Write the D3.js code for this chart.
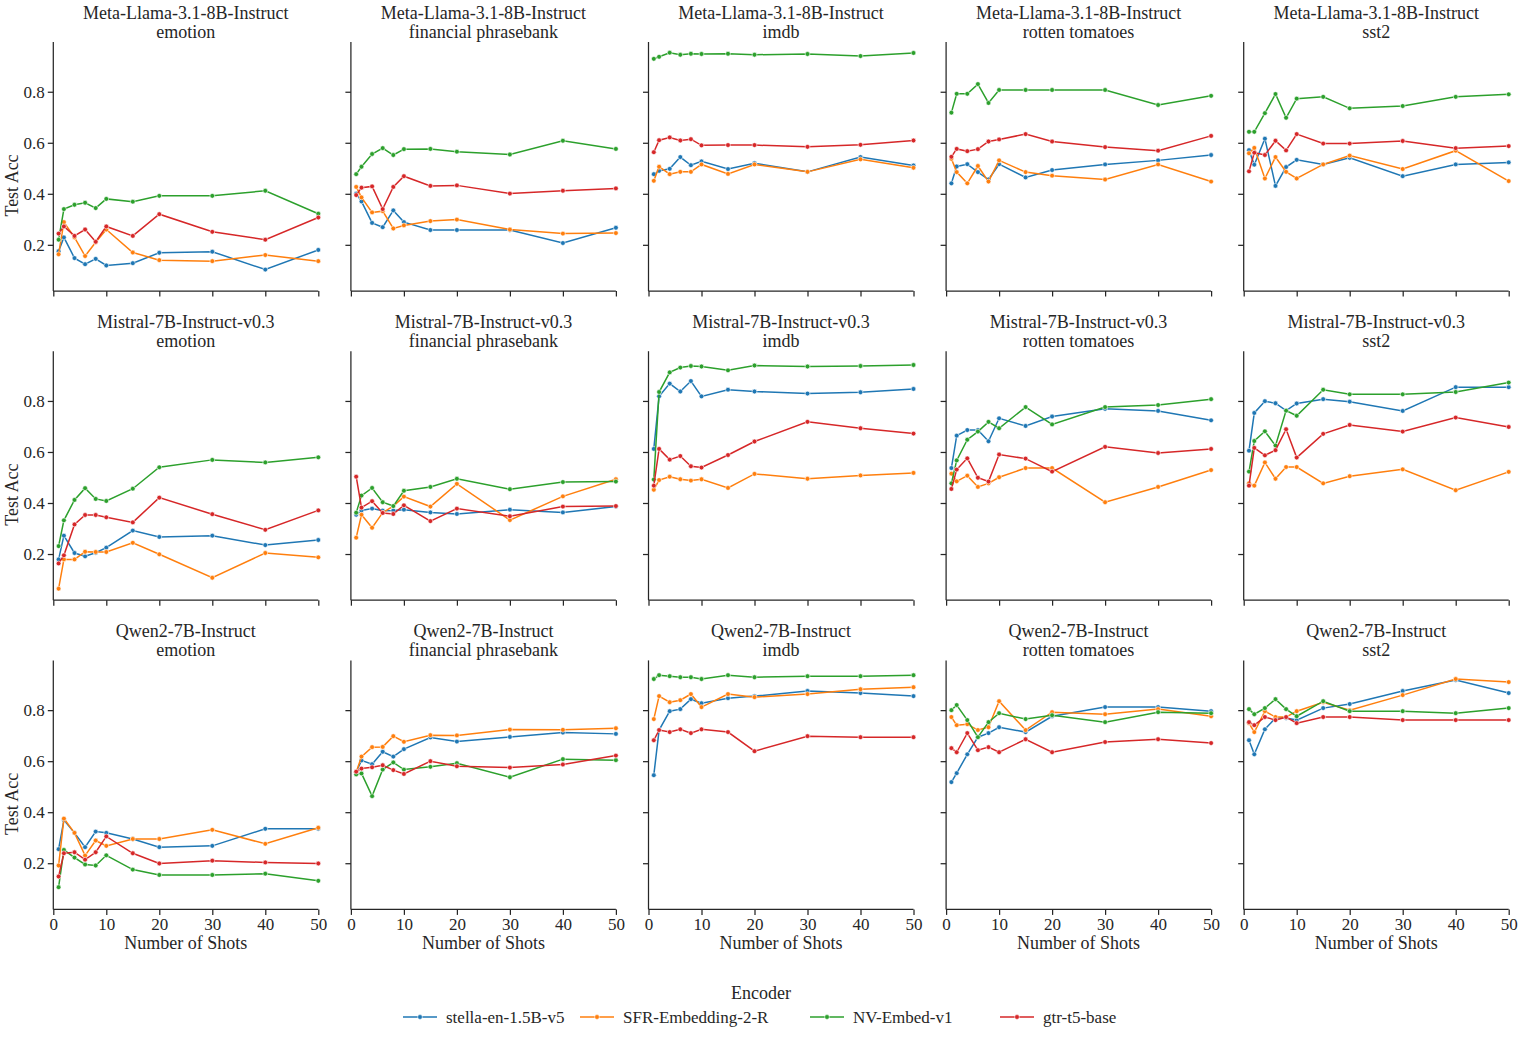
<!DOCTYPE html>
<html>
<head>
<meta charset="utf-8">
<script src="https://cdn.jsdelivr.net/npm/d3@7"></script>
<style>
  body { margin: 0; background: #fff; }
  text { font-family: "Liberation Serif", "DejaVu Serif", serif; fill: #262626; }
</style>
</head>
<body>
<div id="canvas"></div>
<script>
const shots = [1, 2, 4, 6, 8, 10, 15, 20, 30, 40, 50];
const models = ["Meta-Llama-3.1-8B-Instruct", "Mistral-7B-Instruct-v0.3", "Qwen2-7B-Instruct"];
const datasets = ["emotion", "financial phrasebank", "imdb", "rotten tomatoes", "sst2"];
const encoders = ["stella-en-1.5B-v5", "SFR-Embedding-2-R", "NV-Embed-v1", "gtr-t5-base"];
const colors = ["#1f77b4", "#ff7f0e", "#2ca02c", "#d62728"];
const xTicks = [0, 10, 20, 30, 40, 50];
const yTicks = [0.2, 0.4, 0.6, 0.8];

// rows: stella, SFR, NV, gtr
const llamaEmotion = [
  [0.175, 0.229, 0.148, 0.124, 0.145, 0.119, 0.128, 0.169, 0.173, 0.103, 0.180],
  [0.163, 0.289, 0.229, 0.156, 0.210, 0.260, 0.170, 0.140, 0.136, 0.160, 0.136],
  [0.220, 0.340, 0.357, 0.365, 0.344, 0.380, 0.369, 0.392, 0.392, 0.412, 0.322],
  [0.244, 0.272, 0.235, 0.260, 0.212, 0.272, 0.235, 0.320, 0.251, 0.220, 0.307]
];
const llamaFinancial = [
  [0.401, 0.370, 0.286, 0.269, 0.335, 0.289, 0.258, 0.258, 0.258, 0.207, 0.267],
  [0.427, 0.386, 0.327, 0.332, 0.264, 0.276, 0.293, 0.299, 0.260, 0.244, 0.246],
  [0.477, 0.506, 0.556, 0.579, 0.552, 0.575, 0.576, 0.565, 0.554, 0.608, 0.576],
  [0.395, 0.424, 0.429, 0.340, 0.427, 0.469, 0.431, 0.433, 0.401, 0.412, 0.421]
];
const llamaImdb = [
  [0.477, 0.490, 0.498, 0.544, 0.512, 0.527, 0.497, 0.520, 0.486, 0.544, 0.511],
  [0.451, 0.506, 0.477, 0.486, 0.486, 0.515, 0.478, 0.515, 0.486, 0.535, 0.502],
  [0.929, 0.937, 0.953, 0.945, 0.949, 0.948, 0.949, 0.945, 0.948, 0.940, 0.952],
  [0.563, 0.610, 0.621, 0.609, 0.614, 0.590, 0.591, 0.591, 0.584, 0.592, 0.609]
];
const llamaRotten = [
  [0.441, 0.507, 0.516, 0.485, 0.456, 0.516, 0.464, 0.493, 0.515, 0.531, 0.552],
  [0.537, 0.485, 0.441, 0.509, 0.448, 0.531, 0.485, 0.471, 0.456, 0.515, 0.448],
  [0.718, 0.792, 0.792, 0.830, 0.756, 0.807, 0.807, 0.807, 0.807, 0.748, 0.784],
  [0.545, 0.576, 0.567, 0.575, 0.605, 0.613, 0.634, 0.605, 0.583, 0.569, 0.627]
];
const llamaSst2 = [
  [0.571, 0.514, 0.616, 0.431, 0.505, 0.533, 0.515, 0.541, 0.469, 0.515, 0.523],
  [0.559, 0.580, 0.460, 0.544, 0.486, 0.460, 0.515, 0.550, 0.497, 0.569, 0.450],
  [0.643, 0.643, 0.716, 0.791, 0.698, 0.773, 0.780, 0.735, 0.744, 0.780, 0.790],
  [0.488, 0.561, 0.552, 0.608, 0.570, 0.634, 0.597, 0.597, 0.607, 0.579, 0.587]
];
const mistralEmotion = [
  [0.179, 0.272, 0.204, 0.191, 0.205, 0.225, 0.292, 0.267, 0.272, 0.235, 0.255],
  [0.064, 0.179, 0.179, 0.209, 0.208, 0.208, 0.244, 0.199, 0.107, 0.204, 0.187],
  [0.231, 0.332, 0.412, 0.458, 0.416, 0.408, 0.456, 0.540, 0.569, 0.559, 0.579],
  [0.163, 0.195, 0.316, 0.353, 0.353, 0.344, 0.324, 0.421, 0.356, 0.295, 0.371]
];
const mistralFinancial = [
  [0.354, 0.371, 0.378, 0.370, 0.371, 0.374, 0.363, 0.357, 0.374, 0.363, 0.386],
  [0.264, 0.354, 0.303, 0.362, 0.388, 0.425, 0.386, 0.475, 0.333, 0.426, 0.493],
  [0.362, 0.429, 0.459, 0.403, 0.388, 0.448, 0.463, 0.495, 0.454, 0.482, 0.484],
  [0.503, 0.382, 0.407, 0.361, 0.357, 0.391, 0.329, 0.378, 0.348, 0.386, 0.388]
];
const mistralImdb = [
  [0.612, 0.818, 0.868, 0.837, 0.878, 0.818, 0.844, 0.837, 0.829, 0.834, 0.847],
  [0.452, 0.490, 0.503, 0.493, 0.488, 0.493, 0.459, 0.514, 0.495, 0.508, 0.518],
  [0.492, 0.835, 0.912, 0.931, 0.937, 0.935, 0.920, 0.939, 0.935, 0.937, 0.941],
  [0.468, 0.612, 0.570, 0.584, 0.544, 0.539, 0.588, 0.641, 0.718, 0.693, 0.672]
];
const mistralRotten = [
  [0.537, 0.664, 0.686, 0.686, 0.642, 0.732, 0.702, 0.739, 0.769, 0.761, 0.724],
  [0.515, 0.485, 0.507, 0.463, 0.477, 0.501, 0.537, 0.537, 0.403, 0.463, 0.529],
  [0.477, 0.567, 0.648, 0.680, 0.718, 0.693, 0.776, 0.708, 0.776, 0.784, 0.807],
  [0.455, 0.531, 0.575, 0.499, 0.484, 0.590, 0.574, 0.523, 0.620, 0.596, 0.612]
];
const mistralSst2 = [
  [0.605, 0.753, 0.799, 0.791, 0.762, 0.790, 0.807, 0.797, 0.761, 0.854, 0.854],
  [0.477, 0.468, 0.559, 0.495, 0.541, 0.541, 0.477, 0.505, 0.532, 0.450, 0.522],
  [0.523, 0.643, 0.681, 0.625, 0.762, 0.742, 0.844, 0.826, 0.826, 0.835, 0.872],
  [0.468, 0.616, 0.587, 0.607, 0.689, 0.578, 0.671, 0.706, 0.680, 0.735, 0.698]
];
const qwenEmotion = [
  [0.255, 0.369, 0.319, 0.263, 0.324, 0.319, 0.295, 0.263, 0.268, 0.335, 0.335],
  [0.191, 0.375, 0.319, 0.230, 0.289, 0.268, 0.295, 0.295, 0.331, 0.276, 0.339],
  [0.106, 0.252, 0.222, 0.195, 0.191, 0.231, 0.175, 0.154, 0.154, 0.159, 0.131],
  [0.148, 0.239, 0.243, 0.214, 0.243, 0.305, 0.239, 0.199, 0.210, 0.203, 0.199]
];
const qwenFinancial = [
  [0.557, 0.603, 0.588, 0.637, 0.618, 0.647, 0.693, 0.677, 0.695, 0.712, 0.707],
  [0.557, 0.618, 0.655, 0.656, 0.698, 0.676, 0.702, 0.701, 0.724, 0.723, 0.729],
  [0.548, 0.552, 0.463, 0.567, 0.595, 0.567, 0.578, 0.592, 0.537, 0.608, 0.604],
  [0.559, 0.571, 0.576, 0.584, 0.565, 0.550, 0.600, 0.580, 0.575, 0.587, 0.622]
];
const qwenImdb = [
  [0.545, 0.722, 0.796, 0.804, 0.843, 0.827, 0.847, 0.855, 0.875, 0.867, 0.855],
  [0.765, 0.855, 0.831, 0.839, 0.863, 0.812, 0.863, 0.851, 0.863, 0.882, 0.890],
  [0.922, 0.937, 0.933, 0.929, 0.929, 0.922, 0.937, 0.929, 0.933, 0.933, 0.937],
  [0.682, 0.722, 0.714, 0.725, 0.710, 0.725, 0.714, 0.639, 0.698, 0.694, 0.694]
];
const qwenRotten = [
  [0.518, 0.553, 0.627, 0.694, 0.710, 0.733, 0.714, 0.776, 0.812, 0.812, 0.796],
  [0.773, 0.741, 0.745, 0.722, 0.733, 0.835, 0.722, 0.792, 0.784, 0.804, 0.776],
  [0.800, 0.820, 0.761, 0.694, 0.753, 0.788, 0.765, 0.780, 0.753, 0.792, 0.788],
  [0.651, 0.635, 0.710, 0.643, 0.655, 0.635, 0.686, 0.635, 0.675, 0.686, 0.671]
];
const qwenSst2 = [
  [0.682, 0.627, 0.725, 0.769, 0.769, 0.761, 0.808, 0.824, 0.875, 0.918, 0.867],
  [0.749, 0.714, 0.796, 0.773, 0.773, 0.796, 0.831, 0.800, 0.859, 0.922, 0.910],
  [0.804, 0.784, 0.808, 0.843, 0.804, 0.776, 0.835, 0.796, 0.796, 0.788, 0.808],
  [0.753, 0.741, 0.773, 0.761, 0.773, 0.749, 0.773, 0.773, 0.761, 0.761, 0.761]
];

const panels = [
  [llamaEmotion, llamaFinancial, llamaImdb, llamaRotten, llamaSst2],
  [mistralEmotion, mistralFinancial, mistralImdb, mistralRotten, mistralSst2],
  [qwenEmotion, qwenFinancial, qwenImdb, qwenRotten, qwenSst2]
];

const width = 1522;
const height = 1038;
const left0 = 53.3, colStep = 297.6, pw = 265;
const top0 = 42, rowStep = 309.2, ph = 249;

const svg = d3.select("#canvas").append("svg")
  .attr("width", width)
  .attr("height", height);

const x = d3.scaleLinear().domain([0, 50]).range([0, pw]);
const y = d3.scaleLinear().domain([0.019, 0.995]).range([ph, 0]);

const line = d3.line()
  .x((d, i) => x(shots[i]))
  .y((d) => y(d));

panels.forEach((row, r) => {
  row.forEach((series, c) => {
    const g = svg.append("g")
      .attr("transform", `translate(${left0 + c * colStep}, ${top0 + r * rowStep})`);

    g.append("g")
      .attr("class", "x--axis")
      .attr("transform", `translate(0, ${ph})`)
      .call(d3.axisBottom(x).tickValues(xTicks).tickSize(5.5).tickPadding(3)
        .tickFormat(r === 2 ? d3.format("d") : ""));

    g.append("g")
      .attr("class", "y--axis")
      .call(d3.axisLeft(y).tickValues(yTicks).tickSize(5.5).tickPadding(3)
        .tickFormat(c === 0 ? d3.format(".1f") : ""));

    g.selectAll(".domain").attr("stroke", "#262626").attr("stroke-width", 1.25);
    g.selectAll(".tick line").attr("stroke", "#262626").attr("stroke-width", 1.25);
    g.selectAll(".tick text").style("font-size", "17px").attr("fill", "#262626");
    g.select(".y--axis .domain").attr("d", `M0,0V${ph}`);
    g.select(".x--axis .domain").attr("d", `M0,0H${pw}`);

    series.forEach((vals, k) => {
      g.append("path")
        .datum(vals)
        .attr("fill", "none")
        .attr("stroke", colors[k])
        .attr("stroke-width", 1.5)
        .attr("d", line);
      g.selectAll(null)
        .data(vals)
        .enter()
        .append("circle")
        .attr("cx", (d, i) => x(shots[i]))
        .attr("cy", (d) => y(d))
        .attr("r", 2.4)
        .attr("fill", colors[k])
        .attr("stroke", "#fff")
        .attr("stroke-width", 0.6);
    });

    g.append("text")
      .attr("text-anchor", "middle")
      .style("font-size", "18px")
      .attr("x", pw / 2)
      .attr("y", -23)
      .text(models[r]);
    g.append("text")
      .attr("text-anchor", "middle")
      .style("font-size", "18px")
      .attr("x", pw / 2)
      .attr("y", -4)
      .text(datasets[c]);

    if (c === 0) {
      g.append("text")
        .attr("text-anchor", "middle")
        .style("font-size", "18px")
        .attr("transform", `translate(-35, ${ph / 2 + 19}) rotate(-90)`)
        .text("Test Acc");
    }
    if (r === 2) {
      g.append("text")
        .attr("text-anchor", "middle")
        .style("font-size", "18px")
        .attr("x", pw / 2)
        .attr("y", ph + 40)
        .text("Number of Shots");
    }
  });
});

// legend
const legend = svg.append("g");
legend.append("text")
  .attr("text-anchor", "middle")
  .style("font-size", "18px")
  .attr("x", 761)
  .attr("y", 999)
  .text("Encoder");

const legendX = [403, 580, 810, 1000];
encoders.forEach((name, k) => {
  const item = legend.append("g").attr("transform", `translate(${legendX[k]}, 1017)`);
  item.append("line")
    .attr("x1", 0).attr("x2", 34)
    .attr("stroke", colors[k]).attr("stroke-width", 1.5);
  item.append("circle")
    .attr("cx", 17).attr("r", 2.4)
    .attr("fill", colors[k]).attr("stroke", "#fff").attr("stroke-width", 0.6);
  item.append("text")
    .style("font-size", "17px")
    .attr("x", 43)
    .attr("y", 5.5)
    .text(name);
});
</script>
</body>
</html>
